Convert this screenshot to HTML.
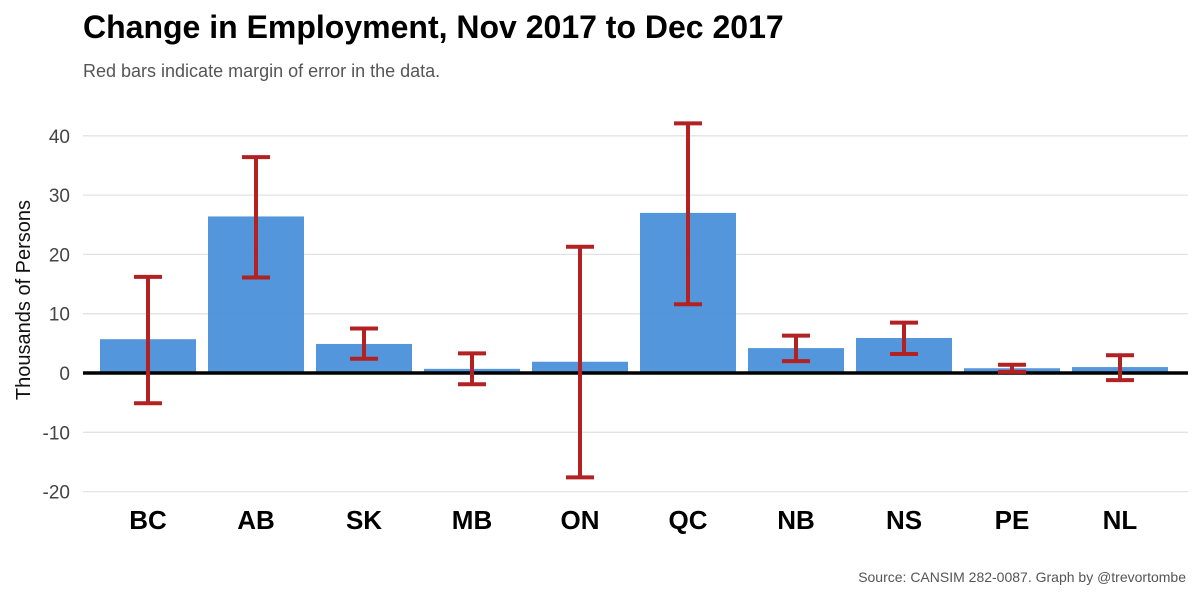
<!DOCTYPE html>
<html><head><meta charset="utf-8"><style>
body{margin:0;background:#fff;font-family:"Liberation Sans",Arial,sans-serif}
</style></head><body>
<svg width="1200" height="600" xmlns="http://www.w3.org/2000/svg" id="c" font-family="Liberation Sans, Arial, sans-serif">
<text x="83" y="38" font-size="32" font-weight="bold" fill="#000">Change in Employment, Nov 2017 to Dec 2017</text>
<text x="83" y="77" font-size="18" fill="#555">Red bars indicate margin of error in the data.</text>
<text transform="translate(30,300) rotate(-90)" text-anchor="middle" font-size="20" fill="#111">Thousands of Persons</text>
<text x="1186" y="582" text-anchor="end" font-size="14" fill="#555">Source: CANSIM 282-0087. Graph by @trevortombe</text>
<g id="grid"></g><g id="bars"></g><g id="err"></g><g id="labels"></g>
</svg>
<script>
const categories=["BC","AB","SK","MB","ON","QC","NB","NS","PE","NL"];
const values=[5.7,26.4,4.9,0.7,1.9,27.0,4.2,5.9,0.8,1.0];
const errHigh=[16.2,36.4,7.5,3.3,21.3,42.1,6.3,8.5,1.4,3.0];
const errLow=[-5.1,16.1,2.4,-1.9,-17.6,11.6,2.0,3.2,0.2,-1.2];
const yTicks=[-20,-10,0,10,20,30,40];
const NS="http://www.w3.org/2000/svg";
const y=v=>373-v*5.93;
const xc=i=>148+i*108;
function mk(t,a,p){const e=document.createElementNS(NS,t);for(const k in a)e.setAttribute(k,a[k]);p.appendChild(e);return e;}
const grid=document.getElementById('grid'),bars=document.getElementById('bars'),err=document.getElementById('err'),lab=document.getElementById('labels');
yTicks.forEach(t=>{
 const l=mk('line',{x1:83,x2:1188,y1:y(t),y2:y(t),stroke:'#e3e3e3','stroke-width':1.3},grid);
 
 
 const tx=mk('text',{x:70,y:y(t)+7,'text-anchor':'end','font-size':19,fill:'#444'},grid);
 tx.textContent=t;
 
 
});
categories.forEach((c,i)=>{
 const v=values[i];
 const r=mk('rect',{x:xc(i)-48,y:Math.min(y(v),y(0)),width:96,height:Math.abs(y(v)-y(0)),fill:'#4a90d9','fill-opacity':0.95},bars);
 
 
 const g=mk('g',{stroke:'#b22222','stroke-width':4,fill:'none'},err);
 
 
 const x=xc(i),h=y(errHigh[i]),lo=y(errLow[i]);
 mk('line',{x1:x,x2:x,y1:h,y2:lo},g);
 mk('line',{x1:x-14,x2:x+14,y1:h,y2:h},g);
 mk('line',{x1:x-14,x2:x+14,y1:lo,y2:lo},g);
 const t=mk('text',{x:x,y:529,'text-anchor':'middle','font-size':26,'font-weight':'bold',fill:'#000'},lab);
 t.textContent=c;
 
 
});
const z=mk('line',{x1:83,x2:1188,y1:y(0),y2:y(0),stroke:'#000','stroke-width':3.5},bars);


</script>
</body></html>
